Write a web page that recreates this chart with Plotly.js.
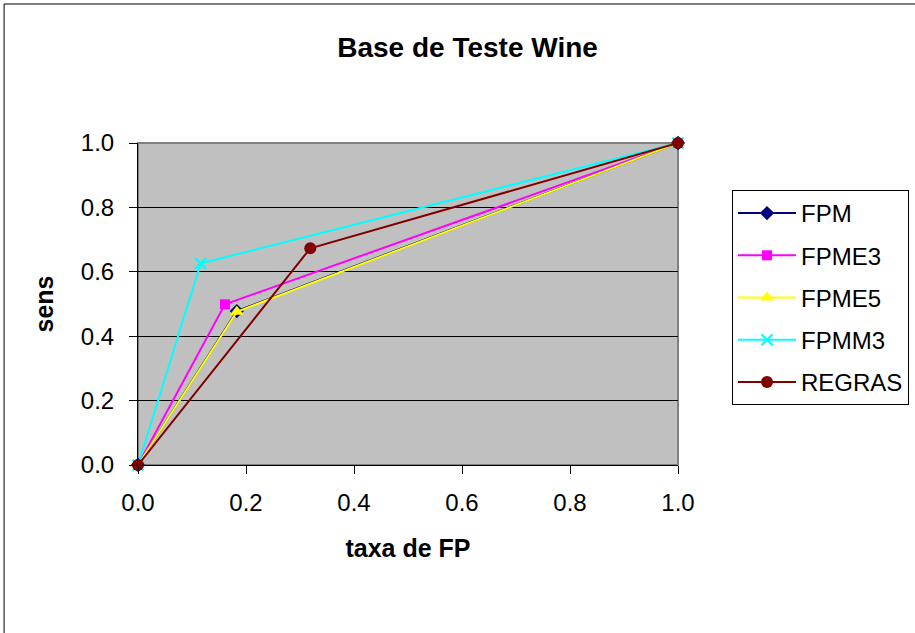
<!DOCTYPE html>
<html>
<head>
<meta charset="utf-8">
<script src="https://cdn.plot.ly/plotly-3.0.1.min.js"></script>
<style>
  html, body { margin: 0; padding: 0; background: #fff; overflow: hidden; }
  #chart { width: 915px; height: 633px; }
</style>
</head>
<body>
<div id="chart"></div>
<script>
// ROC points (taxa de FP, sens) for each classifier on the Wine test set
const seriesNames = ['FPM', 'FPME3', 'FPME5', 'FPMM3', 'REGRAS'];
const fpm_x    = [0, 0.183, 1];
const fpm_y    = [0, 0.478, 1];
const fpme3_x  = [0, 0.161, 1];
const fpme3_y  = [0, 0.499, 1];
const fpme5_x  = [0, 0.183, 1];
const fpme5_y  = [0, 0.476, 1];
const fpmm3_x  = [0, 0.116, 1];
const fpmm3_y  = [0, 0.626, 1];
const regras_x = [0, 0.319, 1];
const regras_y = [0, 0.673, 1];
const tickVals = [0, 0.2, 0.4, 0.6, 0.8, 1.0];
const tickText = ['0.0', '0.2', '0.4', '0.6', '0.8', '1.0'];

const styles = [
  { color: '#000080', symbol: 'diamond', size: 11 },
  { color: '#FF00FF', symbol: 'square', size: 10 },
  { color: '#FFFF00', symbol: 'triangle-up', size: 12 },
  { color: '#00FFFF', symbol: 'x-thin', size: 11 },
  { color: '#800000', symbol: 'circle', size: 12 }
];
const xs = [fpm_x, fpme3_x, fpme5_x, fpmm3_x, regras_x];
const ys = [fpm_y, fpme3_y, fpme5_y, fpmm3_y, regras_y];

const traces = seriesNames.map((name, i) => ({
  type: 'scatter',
  mode: 'lines+markers',
  name: name,
  legendgroup: name,
  x: xs[i],
  y: ys[i],
  cliponaxis: false,
  line: { color: styles[i].color, width: 2 },
  marker: {
    color: styles[i].color,
    symbol: styles[i].symbol,
    size: styles[i].size,
    line: { color: styles[i].color, width: styles[i].symbol === 'x-thin' ? 2 : 0 }
  }
}));

const font = 'Arial, "Liberation Sans", sans-serif';

const layout = {
  width: 915,
  height: 633,
  margin: { l: 138, r: 237, t: 143, b: 168, autoexpand: false },
  paper_bgcolor: '#ffffff',
  plot_bgcolor: '#C0C0C0',
  font: { family: font, size: 24, color: '#000' },
  title: {
    text: '<b>Base de Teste Wine</b>',
    font: { family: font, size: 28, color: '#000' },
    x: 0.511, xanchor: 'center',
    y: 0.926, yanchor: 'middle'
  },
  xaxis: {
    range: [0, 1],
    tickvals: tickVals,
    ticktext: tickText,
    ticks: 'outside',
    ticklen: 8,
    tickcolor: '#000',
    ticklabelstandoff: 8,
    showgrid: false,
    zeroline: false,
    showline: true,
    linecolor: '#000',
    linewidth: 1,
    fixedrange: true,
    tickfont: { family: font, size: 24 },
    title: { text: '<b>taxa de FP</b>', font: { family: font, size: 25 }, standoff: 24 }
  },
  yaxis: {
    range: [0, 1],
    tickvals: tickVals,
    ticktext: tickText,
    ticks: 'outside',
    ticklen: 8,
    tickcolor: '#000',
    ticklabelstandoff: 10,
    showgrid: true,
    gridcolor: '#000',
    gridwidth: 1,
    zeroline: false,
    showline: true,
    linecolor: '#000',
    linewidth: 1,
    fixedrange: true,
    tickfont: { family: font, size: 24 },
    title: { text: '<b>sens</b>', font: { family: font, size: 25 }, standoff: 20 }
  },
  legend: {
    x: 1.1, xanchor: 'left',
    y: 0.854, yanchor: 'top',
    bgcolor: '#ffffff',
    bordercolor: '#000',
    borderwidth: 1,
    font: { family: font, size: 24, color: '#000' },
    itemwidth: 58,
    tracegroupgap: 8
  },
  shapes: [
    // plot-area frame
    { type: 'rect', xref: 'paper', yref: 'paper', x0: 0, x1: 1, y0: 0, y1: 1,
      line: { color: '#808080', width: 2 }, layer: 'below' },
    // outer chart frame
    { type: 'rect', xref: 'paper', yref: 'paper', x0: -0.248, x1: 1.5, y0: -0.6, y1: 1.4317,
      line: { color: '#000', width: 1 }, layer: 'below' }
  ]
};

Plotly.newPlot('chart', traces, layout, { displayModeBar: false, staticPlot: true });
</script>
</body>
</html>
